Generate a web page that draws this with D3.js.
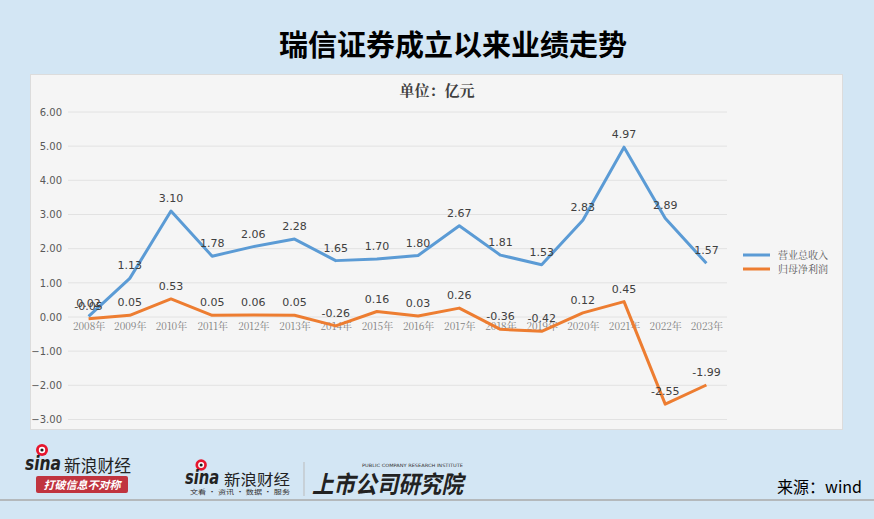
<!DOCTYPE html>
<html><head><meta charset="utf-8">
<script src="https://cdn.jsdelivr.net/npm/d3@7"></script>
<style>
html,body{margin:0;padding:0;background:#d3e6f4;}
svg{display:block;font-family:"Noto Sans CJK SC","Noto Sans",sans-serif;}
</style></head>
<body>
<svg id="c" width="874" height="519"></svg>
<script>
const years = ["2008年","2009年","2010年","2011年","2012年","2013年","2014年","2015年","2016年","2017年","2018年","2019年","2020年","2021年","2022年","2023年"];
const revenue = [0.02,1.13,3.10,1.78,2.06,2.28,1.65,1.70,1.80,2.67,1.81,1.53,2.83,4.97,2.89,1.57];
const profit = [-0.05,0.05,0.53,0.05,0.06,0.05,-0.26,0.16,0.03,0.26,-0.36,-0.42,0.12,0.45,-2.55,-1.99];
const yTicks = [-3,-2,-1,0,1,2,3,4,5,6];
const seriesNames = ["营业总收入","归母净利润"];
const colors = ["#5b9bd5","#ed7d31"];

const svg = d3.select("#c");
// panel
svg.append("rect").attr("x",30.5).attr("y",74.5).attr("width",812).attr("height",355)
  .attr("fill","#f5f5f5").attr("stroke","#dcdcdc");
// title
svg.append("text").attr("x",453).attr("y",56).attr("text-anchor","middle")
  .attr("font-size",29).attr("font-weight","bold").attr("fill","#000").text("瑞信证券成立以来业绩走势");
svg.append("text").attr("x",437).attr("y",96).attr("text-anchor","middle")
  .attr("font-size",15).attr("font-weight","bold").attr("fill","#404040").attr("font-family","'Noto Serif CJK SC','Noto Sans CJK SC',serif").text("单位：亿元");

const x = d3.scalePoint().domain(years).range([68,727]).padding(0.5);
const y = d3.scaleLinear().domain([-3,6]).range([419.5,112]);

// grid
const g = svg.append("g");
g.selectAll("line.grid").data(yTicks).join("line").attr("class","grid")
  .attr("x1",68).attr("x2",727).attr("y1",d=>y(d)).attr("y2",d=>y(d))
  .attr("stroke","#e2e2e2").attr("stroke-width",1);
const yAxis = d3.axisLeft(y).tickValues(yTicks).tickFormat(d3.format(".2f")).tickSize(0).tickPadding(6);
const ya = svg.append("g").attr("transform","translate(68,0)").call(yAxis);
ya.select(".domain").remove();
ya.selectAll("text").attr("font-size",10).attr("fill","#595959").attr("font-family","'DejaVu Sans',sans-serif");

const xAxis = d3.axisBottom(x).tickSize(0).tickPadding(6);
const xa = svg.append("g").attr("transform",`translate(0,${y(0)})`).call(xAxis);
xa.select(".domain").remove();
xa.selectAll("text").attr("font-size",10).attr("fill","#7f7f7f").attr("font-family","'Noto Serif CJK SC','DejaVu Sans',serif");

const line = d3.line().x((d,i)=>x(years[i])).y(d=>y(d));
[revenue,profit].forEach((s,k)=>{
  svg.append("path").datum(s).attr("d",line).attr("fill","none")
    .attr("stroke",colors[k]).attr("stroke-width",3).attr("stroke-linejoin","round");
});
[revenue,profit].forEach((s,k)=>{
  svg.append("g").selectAll("text").data(s).join("text")
    .attr("x",(d,i)=>x(years[i])).attr("y",d=>y(d)-9)
    .attr("text-anchor","middle").attr("font-size",11).attr("fill","#404040")
    .attr("font-family","'DejaVu Sans',sans-serif")
    .text(d=>d.toFixed(2));
});

// legend
seriesNames.forEach((n,k)=>{
  const ly = 255 + k*14;
  svg.append("line").attr("x1",743).attr("x2",770).attr("y1",ly).attr("y2",ly)
    .attr("stroke",colors[k]).attr("stroke-width",3);
  svg.append("text").attr("x",778).attr("y",ly+4).attr("font-size",10).attr("fill","#595959")
    .attr("font-family","'Noto Serif CJK SC','Noto Sans CJK SC',serif").text(n);
});

// footer
svg.append("line").attr("x1",0).attr("x2",874).attr("y1",500).attr("y2",500).attr("stroke","#aaaaaa").attr("stroke-width",1.5);
svg.append("text").attr("x",862).attr("y",493).attr("text-anchor","end").attr("font-size",16).attr("fill","#000")
  .attr("font-family","'Noto Sans CJK SC',sans-serif").text("来源：wind");

function sinaMark(gx,gy,s){
  const lg = svg.append("g").attr("transform",`translate(${gx},${gy}) scale(${s})`);
  lg.append("circle").attr("cx",17).attr("cy",-20).attr("r",6).attr("fill","#e6162d");
  lg.append("circle").attr("cx",17).attr("cy",-20).attr("r",3.2).attr("fill","#fff");
  lg.append("circle").attr("cx",17).attr("cy",-20).attr("r",1.6).attr("fill","#222");
  lg.append("text").attr("x",0).attr("y",0).attr("font-size",20).attr("font-weight","bold").attr("font-style","italic")
    .attr("fill","#222").attr("font-family","'DejaVu Sans',sans-serif").attr("textLength",36).attr("lengthAdjust","spacingAndGlyphs").text("sina");
}
// logo 1
sinaMark(25,470,1);
svg.append("text").attr("x",64).attr("y",472).attr("font-size",17).attr("fill","#222").attr("textLength",67).attr("lengthAdjust","spacingAndGlyphs").text("新浪财经");
svg.append("rect").attr("x",36).attr("y",476).attr("width",92).attr("height",17).attr("rx",2).attr("fill","#c0343f");
svg.append("text").attr("x",82).attr("y",489).attr("text-anchor","middle").attr("font-size",11).attr("fill","#fff").attr("font-style","italic").attr("font-weight","bold").text("打破信息不对称");
// logo 2
sinaMark(185,484,0.95);
svg.append("text").attr("x",224).attr("y",485).attr("font-size",15).attr("fill","#222").attr("textLength",66).attr("lengthAdjust","spacingAndGlyphs").text("新浪财经");
svg.append("text").attr("x",190).attr("y",494).attr("font-size",6).attr("fill","#333").attr("textLength",100).attr("lengthAdjust","spacingAndGlyphs").text("文看 · 资讯 · 数据 · 服务");
svg.append("line").attr("x1",304).attr("x2",304).attr("y1",462).attr("y2",496).attr("stroke","#bbb");
svg.append("text").attr("x",362).attr("y",467).attr("font-size",4.5).attr("fill","#333").attr("font-family","'DejaVu Sans',sans-serif").attr("textLength",101).attr("lengthAdjust","spacingAndGlyphs").text("PUBLIC COMPANY RESEARCH INSTITUTE");
svg.append("text").attr("x",312).attr("y",493).attr("font-size",24).attr("font-weight","bold").attr("fill","#222").attr("font-style","italic").attr("textLength",151).attr("lengthAdjust","spacingAndGlyphs").text("上市公司研究院");
</script>
</body></html>
